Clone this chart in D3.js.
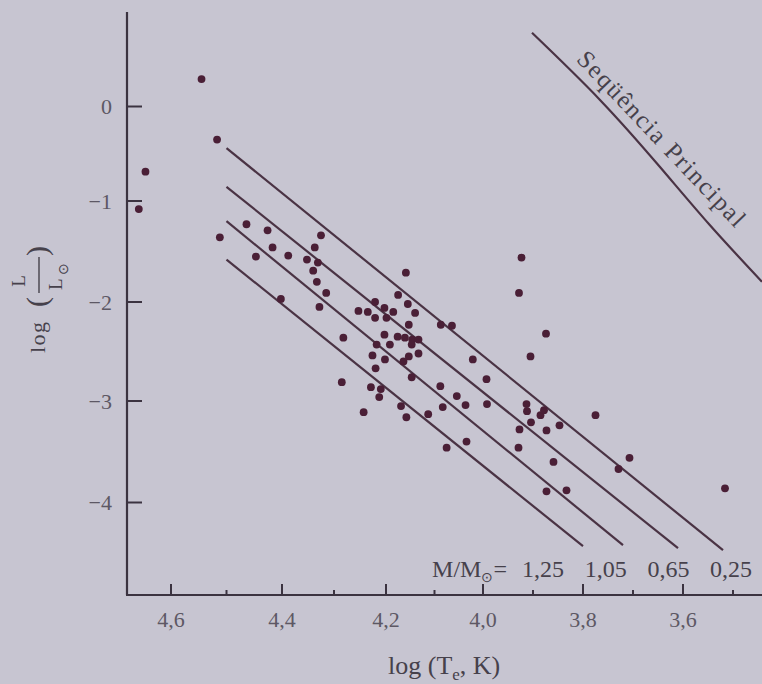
<!DOCTYPE html>
<html>
<head>
<meta charset="utf-8">
<script src="https://cdn.jsdelivr.net/npm/d3@7"></script>
<style>
  html, body { margin: 0; padding: 0; background: #c7c5d1; }
  svg { display: block; }
</style>
</head>
<body>
<div id="chart"></div>
<script>
// White dwarfs: effective temperature vs luminosity
const logTe = [4.545, 4.517, 4.646, 4.658, 4.512, 4.464, 4.426, 4.417, 4.447, 4.388,
  4.352, 4.337, 4.325, 4.331, 4.340, 4.333, 4.315, 4.402, 4.328,
  4.175, 4.155, 4.221, 4.203, 4.253, 4.235, 4.221, 4.199, 4.185, 4.140,
  4.153, 4.087, 4.064, 4.282, 4.203, 4.176, 4.161, 4.146, 4.133, 4.147,
  4.192, 4.218, 4.133, 4.153, 4.226, 4.202, 4.164, 4.220,
  4.159, 4.021, 4.147, 3.993, 4.285, 4.229, 4.210, 4.213, 4.088, 4.054,
  4.083, 4.036, 3.992, 4.243, 4.169, 4.158, 4.113, 4.034, 4.075,
  3.923, 3.928, 3.905, 3.874, 3.913, 3.912, 3.904, 3.885, 3.878, 3.847,
  3.873, 3.927, 3.929, 3.775, 3.859, 3.707, 3.729, 3.873, 3.833, 3.516];
const logL = [0.29, -0.35, -0.69, -1.08, -1.36, -1.23, -1.29, -1.46, -1.55, -1.54,
  -1.58, -1.46, -1.34, -1.61, -1.69, -1.80, -1.91, -1.97, -2.05,
  -1.93, -2.02, -2.00, -2.06, -2.09, -2.10, -2.16, -2.16, -2.10, -2.11,
  -2.23, -2.23, -2.24, -2.36, -2.33, -2.35, -2.36, -2.38, -2.38, -2.43,
  -2.43, -2.43, -2.52, -2.55, -2.54, -2.58, -2.60, -2.67,
  -1.71, -2.58, -2.76, -2.78, -2.81, -2.86, -2.88, -2.96, -2.85, -2.95,
  -3.06, -3.04, -3.03, -3.11, -3.05, -3.16, -3.13, -3.40, -3.46,
  -1.56, -1.91, -2.55, -2.32, -3.03, -3.10, -3.21, -3.14, -3.09, -3.24,
  -3.29, -3.28, -3.46, -3.14, -3.60, -3.56, -3.67, -3.89, -3.88, -3.86];

// constant-mass cooling tracks
const masses = ["1,25", "1,05", "0,65", "0,25"];
const trackStartT = [4.50, 4.50, 4.50, 4.50];
const trackStartL = [-1.58, -1.20, -0.85, -0.44];
const trackEndT = [3.80, 3.72, 3.61, 3.52];
const trackEndL = [-4.43, -4.42, -4.45, -4.47];

// main sequence curve
const mainSeqT = [3.902, 3.766, 3.646, 3.546, 3.442];
const mainSeqL = [0.78, 0.07, -0.64, -1.24, -1.80];

const xTicks = [4.6, 4.4, 4.2, 4.0, 3.8, 3.6];
const xMinorTicks = [4.5, 4.3, 4.1, 3.9, 3.7, 3.5];
const yTicks = [0, -1, -2, -3, -4];
const fmt = d => d3.format(".1f")(d).replace(".", ",");

const width = 762, height = 684;
const ink = "#3b3340", dotColor = "#4a1f36", trackColor = "#4a3344", textColor = "#46414b";
const serif = "'Liberation Serif', 'Times New Roman', serif";

// the printed axes are slightly uneven, so scales are piecewise on the tick marks
const x = d3.scaleLinear().domain(xTicks).range([171, 282, 386, 483, 583, 683]);
const y = d3.scaleLinear().domain(yTicks).range([106.5, 201, 302, 401, 502.5]);
const x0 = 127, y0 = 595, yTop = 12;

const svg = d3.select("#chart").append("svg")
    .attr("width", width)
    .attr("height", height)
    .attr("viewBox", [0, 0, width, height]);

svg.append("rect").attr("width", width).attr("height", height).attr("fill", "#c7c5d1");

// axes
svg.append("line").attr("x1", x0).attr("x2", x0).attr("y1", yTop).attr("y2", y0)
    .attr("stroke", ink).attr("stroke-width", 2.2);
svg.append("line").attr("x1", x0 - 1).attr("x2", width).attr("y1", y0).attr("y2", y0)
    .attr("stroke", ink).attr("stroke-width", 2.2);

svg.append("g").selectAll("line").data(yTicks).join("line")
    .attr("x1", x0).attr("x2", x0 + 15)
    .attr("y1", d => y(d)).attr("y2", d => y(d))
    .attr("stroke", ink).attr("stroke-width", 2);
svg.append("g").selectAll("text").data(yTicks).join("text")
    .attr("x", 112).attr("y", d => y(d)).attr("dy", "0.35em")
    .attr("text-anchor", "end")
    .attr("font-family", serif).attr("font-size", 22).attr("fill", "#5d5864")
    .text(d => d === 0 ? "0" : "\u2212" + Math.abs(d));

svg.append("g").selectAll("line").data(xTicks).join("line")
    .attr("x1", d => x(d)).attr("x2", d => x(d))
    .attr("y1", y0).attr("y2", y0 - 11)
    .attr("stroke", ink).attr("stroke-width", 2);
svg.append("g").selectAll("line").data(xMinorTicks).join("line")
    .attr("x1", d => x(d)).attr("x2", d => x(d))
    .attr("y1", y0).attr("y2", y0 - 5)
    .attr("stroke", ink).attr("stroke-width", 2);
svg.append("g").selectAll("text").data(xTicks).join("text")
    .attr("x", d => x(d)).attr("y", 627)
    .attr("text-anchor", "middle")
    .attr("font-family", serif).attr("font-size", 22).attr("fill", "#5d5864")
    .text(fmt);

// axis titles
const xt = svg.append("text")
    .attr("x", 388).attr("y", 674)
    .attr("font-family", serif).attr("font-size", 26).attr("fill", textColor);
xt.append("tspan").text("log (T");
xt.append("tspan").attr("font-size", 17).attr("dy", 6).text("e");
xt.append("tspan").attr("dy", -6).text(", K)");

const yt = svg.append("g")
    .attr("transform", "translate(45,353) rotate(-90)")
    .attr("font-family", serif).attr("fill", textColor);
yt.append("text").attr("x", 0).attr("y", 0).attr("font-size", 22)
    .attr("letter-spacing", 1.5).text("log");
yt.append("text").attr("x", 46).attr("y", 2).attr("font-size", 30).text("(");
yt.append("text").attr("x", 72).attr("y", -20).attr("text-anchor", "middle")
    .attr("font-size", 19).text("L");
yt.append("line").attr("x1", 60).attr("x2", 96).attr("y1", -6).attr("y2", -6)
    .attr("stroke", textColor).attr("stroke-width", 1.4);
yt.append("text").attr("x", 63).attr("y", 17).attr("font-size", 19).text("L");
yt.append("text").attr("x", 78).attr("y", 23).attr("font-size", 14).text("\u2299");
yt.append("text").attr("x", 97).attr("y", 2).attr("font-size", 30).text(")");

// main sequence
svg.append("path")
    .datum(d3.range(mainSeqT.length))
    .attr("fill", "none").attr("stroke", trackColor).attr("stroke-width", 2.2)
    .attr("d", d3.line().x(i => x(mainSeqT[i])).y(i => y(mainSeqL[i])).curve(d3.curveNatural));
svg.append("text")
    .attr("transform", `translate(${x(3.815)},${y(0.49)}) rotate(46.5)`)
    .attr("font-family", serif).attr("font-size", 25).attr("fill", textColor)
    .attr("textLength", 232).attr("lengthAdjust", "spacing")
    .text("Seqüência Principal");

// cooling tracks
svg.append("g").selectAll("line").data(masses).join("line")
    .attr("x1", (d, i) => x(trackStartT[i])).attr("y1", (d, i) => y(trackStartL[i]))
    .attr("x2", (d, i) => x(trackEndT[i])).attr("y2", (d, i) => y(trackEndL[i]))
    .attr("stroke", trackColor).attr("stroke-width", 2.2);

// mass labels along the bottom
const ml = svg.append("text")
    .attr("x", 507).attr("y", 577).attr("text-anchor", "end")
    .attr("font-family", serif).attr("font-size", 24).attr("fill", textColor);
ml.append("tspan").text("M/M");
ml.append("tspan").attr("font-size", 14).attr("dy", 5).text("\u2299");
ml.append("tspan").attr("dy", -5).text("=");
svg.append("g").selectAll("text").data(masses).join("text")
    .attr("x", (d, i) => 543 + i * 62.7).attr("y", 577)
    .attr("text-anchor", "middle")
    .attr("font-family", serif).attr("font-size", 24).attr("fill", textColor)
    .text(d => d);

// stars
svg.append("g").attr("fill", dotColor)
  .selectAll("circle").data(d3.range(logTe.length)).join("circle")
    .attr("cx", i => x(logTe[i]))
    .attr("cy", i => y(logL[i]))
    .attr("r", 3.9);
</script>
</body>
</html>
